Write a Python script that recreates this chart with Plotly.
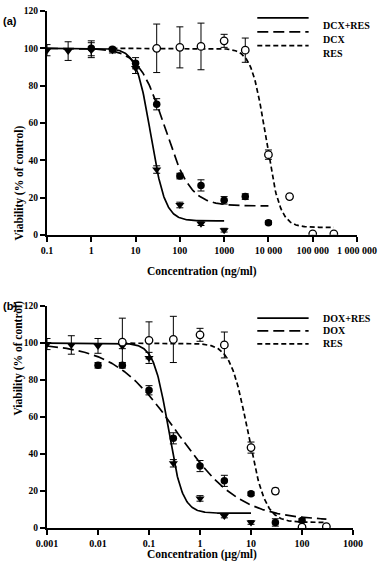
import numpy as np
import plotly.graph_objects as go

# ---------------- Panel (a) data (ng/ml) ----------------
a_combo_x = [0.1, 0.3, 1, 3, 10, 30, 100, 300, 1000]
a_combo_y = [99, 98.5, 99, 99, 89.5, 35, 16, 6, 2.5]
a_combo_e = [3, 5, 4, 1.5, 3, 2, 1.5, 1, 1]

a_drug_x = [1, 3, 10, 30, 100, 300, 1000, 3000, 10000]
a_drug_y = [100, 99.5, 92, 70, 31.5, 26.5, 18.5, 20.5, 6.5]
a_drug_e = [4, 1, 3, 3, 1.5, 3, 2, 1.5, 1]

a_res_x = [30, 100, 300, 1000, 3000, 10000, 30000, 100000, 300000]
a_res_y = [100, 100.5, 101, 104, 99, 43, 20.5, 0.5, 0.5]
a_res_e = [13, 11, 12.5, 3.5, 6.5, 2.5, 1, 0.5, 0.5]

# fitted curve parameters: [bottom, IC50, hill slope, x start, x end]
a_combo_fit = [7.5, 22, 2.66, 0.1, 1000]
a_drug_fit = [15.5, 45, 1.5, 0.1, 10000]
a_res_fit = [4, 8700, 2.72, 3, 300000]

a_ticks = [0.1, 1, 10, 100, 1000, 10000, 100000, 1000000]
a_ticktext = ["0.1", "1", "10", "100", "1000", "10 000", "100 000", "1 000 000"]

# ---------------- Panel (b) data (µg/ml) ----------------
b_combo_x = [0.001, 0.003, 0.01, 0.03, 0.1, 0.3, 1, 3, 10]
b_combo_y = [99.5, 99, 98.5, 98.5, 92, 35, 16, 6.5, 3]
b_combo_e = [3, 5, 4, 1.5, 3, 2, 1.5, 1, 1]

b_drug_x = [0.01, 0.03, 0.1, 0.3, 1, 3, 10, 30, 100]
b_drug_y = [88, 88, 74.5, 48.5, 33.5, 25.5, 18.5, 3, 4]
b_drug_e = [1.5, 1.5, 2.5, 3, 3, 3, 1, 2, 1]

b_res_x = [0.03, 0.1, 0.3, 1, 3, 10, 30, 100, 300]
b_res_y = [100.5, 101.5, 102, 104.5, 99, 43.5, 20, 0.5, 0.8]
b_res_e = [13, 10, 12.5, 3.5, 7, 3, 1.5, 0.5, 0.5]

b_combo_fit = [8, 0.237, 3.08, 0.001, 10]
b_drug_fit = [4, 0.35, 0.7, 0.001, 300]
b_res_fit = [3, 8.7, 2.55, 0.03, 300]

b_ticks = [0.001, 0.01, 0.1, 1, 10, 100, 1000]
b_ticktext = ["0.001", "0.01", "0.1", "1", "10", "100", "1000"]

legend_a = ["DCX+RES", "DCX", "RES"]
legend_b = ["DOX+RES", "DOX", "RES"]

# ---------------- styling ----------------
SERIF = "Liberation Serif"
SANS = "Liberation Sans"
DASHES = ["solid", "11px,5px", "5px,3px"]
LW = 1.7


def hill(p):
    bottom, ic50, n, x0, x1 = p
    xs = np.logspace(np.log10(x0), np.log10(x1), 300)
    ys = bottom + (100 - bottom) / (1 + (xs / ic50) ** n)
    return xs, ys


fig = go.Figure()


def add_panel(xa, ya, fits, series):
    for p, dash in zip(fits, DASHES):
        xs, ys = hill(p)
        fig.add_trace(go.Scatter(x=xs, y=ys, mode="lines", xaxis=xa, yaxis=ya,
                                 line=dict(color="black", width=LW, dash=dash),
                                 showlegend=False, hoverinfo="skip"))
    styles = [
        dict(symbol="triangle-down", size=8, color="black"),
        dict(symbol="circle", size=7.5, color="black"),
        dict(symbol="circle", size=7.5, color="white", line=dict(color="black", width=1.3)),
    ]
    for (x, y, e), m in zip(series, styles):
        fig.add_trace(go.Scatter(x=x, y=y, mode="markers", xaxis=xa, yaxis=ya,
                                 marker=m, showlegend=False,
                                 error_y=dict(type="data", array=e, color="black",
                                              thickness=1, width=3.5)))


add_panel("x", "y", [a_combo_fit, a_drug_fit, a_res_fit],
          [(a_combo_x, a_combo_y, a_combo_e), (a_drug_x, a_drug_y, a_drug_e),
           (a_res_x, a_res_y, a_res_e)])
add_panel("x2", "y2", [b_combo_fit, b_drug_fit, b_res_fit],
          [(b_combo_x, b_combo_y, b_combo_e), (b_drug_x, b_drug_y, b_drug_e),
           (b_res_x, b_res_y, b_res_e)])

W, H = 383, 572
ML, MR, MT, MB = 47, 22, 6, 44
PW, PH = W - ML - MR, H - MT - MB


def px(xpix):
    return (xpix - ML) / PW


def py(ypix):
    return (H - MB - ypix) / PH


tickfont = dict(family=SERIF, size=10, color="black", weight="bold")
common_x = dict(type="log", showgrid=False, zeroline=False, showline=True,
                linecolor="black", linewidth=2, ticks="outside", ticklen=5,
                tickwidth=1.5, tickcolor="black", tickfont=tickfont)
common_y = dict(range=[0, 120], showgrid=False, zeroline=False, showline=True,
                linecolor="black", linewidth=2, ticks="outside", ticklen=5,
                tickwidth=1.5, tickcolor="black",
                tickfont=dict(tickfont, size=9.5),
                tickvals=[0, 20, 40, 60, 80, 100, 120])

fig.update_layout(
    width=W, height=H, autosize=False,
    margin=dict(l=ML, r=MR, t=MT, b=MB),
    paper_bgcolor="white", plot_bgcolor="white", showlegend=False,
    xaxis=dict(common_x, range=[-1, 6], tickvals=a_ticks, ticktext=a_ticktext,
               domain=[0, 1], anchor="y"),
    yaxis=dict(common_y, domain=[py(232), 1], anchor="x"),
    xaxis2=dict(common_x, range=[-3, 3], tickvals=b_ticks, ticktext=b_ticktext,
                domain=[0, px(357)], anchor="y2"),
    yaxis2=dict(common_y, domain=[0, py(304)], anchor="x2"),
)

ann = []
titlefont = dict(family=SERIF, size=11.5, color="black", weight="bold")
ann.append(dict(text="Concentration (ng/ml)", x=px(204), y=py(269), xref="paper",
                yref="paper", showarrow=False, font=titlefont))
ann.append(dict(text="Concentration (µg/ml)", x=px(204), y=py(563), xref="paper",
                yref="paper", showarrow=False, font=titlefont))
ann.append(dict(text="Viability (% of control)", x=px(10), y=py(119), xref="paper",
                yref="paper", showarrow=False, textangle=-90, font=titlefont))
ann.append(dict(text="Viability (% of control)", x=px(10), y=py(416), xref="paper",
                yref="paper", showarrow=False, textangle=-90, font=titlefont))
panelfont = dict(family=SANS, size=11, color="black", weight="bold")
ann.append(dict(text="(a)", x=px(1), y=py(9), xref="paper", yref="paper",
                xanchor="left", showarrow=False, borderpad=0, font=panelfont))
ann.append(dict(text="(b)", x=px(1), y=py(304), xref="paper", yref="paper",
                xanchor="left", showarrow=False, borderpad=0, font=panelfont))

shapes = []
legfont = dict(family=SERIF, size=10, color="black", weight="bold")
for labels, ys in [(legend_a, [13, 27, 41]), (legend_b, [316, 329, 342])]:
    for lab, yy, dash in zip(labels, ys, DASHES):
        shapes.append(dict(type="line", xref="paper", yref="paper",
                           x0=px(260), x1=px(312), y0=py(yy), y1=py(yy),
                           line=dict(color="black", width=LW, dash=dash)))
        ann.append(dict(text=lab, x=px(325), y=py(yy), xref="paper", yref="paper",
                        xanchor="left", showarrow=False, font=legfont))

fig.update_layout(annotations=ann, shapes=shapes)
fig.write_html("out.html", config={"displayModeBar": False},
               post_script="document.body.style.margin='0';"
                           "document.body.style.overflow='hidden';")
